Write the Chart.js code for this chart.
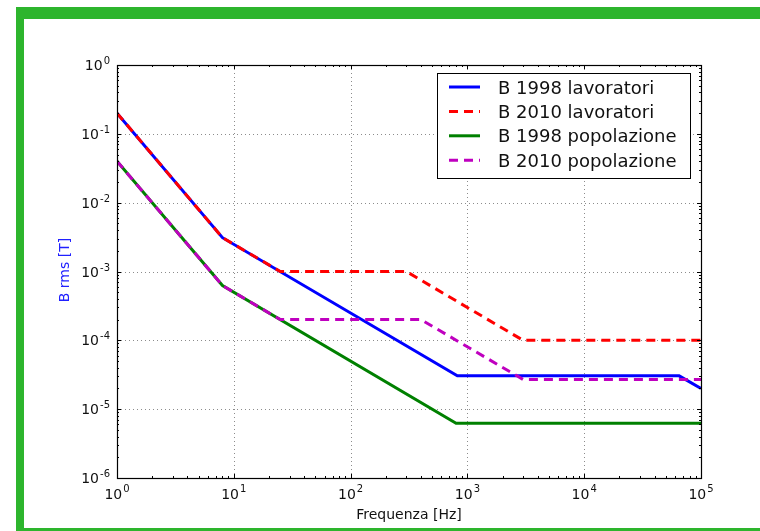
<!DOCTYPE html>
<html>
<head>
<meta charset="utf-8">
<script src="https://cdn.jsdelivr.net/npm/chart.js@4/dist/chart.umd.min.js"></script>
<style>
  html, body { margin: 0; padding: 0; background: #fff; }
  #wrap { width: 760px; height: 531px; position: relative; }
</style>
</head>
<body>
<div id="wrap"><canvas id="myChart" width="760" height="531"></canvas></div>
<script>
// dati (punti di rottura delle curve)
const freq1998lav = [1, 8, 820, 65000, 100000];
const b1998lav    = [0.2, 3.1e-3, 3.05e-5, 3.05e-5, 2.0e-5];
const freq2010lav = [1, 8, 25, 300, 3000, 100000];
const b2010lav    = [0.2, 3.1e-3, 1e-3, 1e-3, 1e-4, 1e-4];
const freq1998pop = [1, 8, 800, 100000];
const b1998pop    = [0.04, 6.25e-4, 6.25e-6, 6.25e-6];
const freq2010pop = [1, 8, 25, 400, 3000, 100000];
const b2010pop    = [0.04, 6.25e-4, 2e-4, 2e-4, 2.7e-5, 2.7e-5];

const seriesNames = ['B 1998 lavoratori', 'B 2010 lavoratori', 'B 1998 popolazione', 'B 2010 popolazione'];
const xTicks = [1, 10, 100, 1000, 10000, 100000];
const yTicks = [1e-6, 1e-5, 1e-4, 1e-3, 1e-2, 1e-1, 1];

function zip(xs, ys) {
  return xs.map((x, i) => ({ x: x, y: ys[i] }));
}

const FONT = '"DejaVu Sans", sans-serif';

// disegna assi, griglia, etichette e legenda in stile matplotlib
const decorPlugin = {
  id: 'decor',
  beforeDraw(chart) {
    const ctx = chart.ctx;
    ctx.save();
    ctx.fillStyle = '#ffffff';
    ctx.fillRect(0, 0, chart.width, chart.height);
    // cornice verde
    ctx.fillStyle = '#2db52d';
    ctx.fillRect(16, 7, 744, 12);
    ctx.fillRect(16, 7, 8, 524);
    ctx.fillRect(16, 528, 744, 3);
    // griglia punteggiata
    const a = chart.chartArea;
    const xs = chart.scales.x, ys = chart.scales.y;
    ctx.strokeStyle = 'rgba(0,0,0,0.45)';
    ctx.lineWidth = 1;
    ctx.setLineDash([1, 3]);
    xTicks.forEach(t => {
      const px = Math.round(xs.getPixelForValue(t)) + 0.5;
      ctx.beginPath(); ctx.moveTo(px, a.top); ctx.lineTo(px, a.bottom); ctx.stroke();
    });
    yTicks.forEach(t => {
      const py = Math.round(ys.getPixelForValue(t)) + 0.5;
      ctx.beginPath(); ctx.moveTo(a.left, py); ctx.lineTo(a.right, py); ctx.stroke();
    });
    ctx.restore();
  },
  afterDraw(chart) {
    const ctx = chart.ctx;
    const a = chart.chartArea;
    const xs = chart.scales.x, ys = chart.scales.y;
    ctx.save();
    ctx.setLineDash([]);
    ctx.strokeStyle = '#000';
    ctx.lineWidth = 1;
    // tacche maggiori e minori
    for (let d = 0; d < 5; d++) {
      for (let m = 1; m < 10; m++) {
        const v = Math.pow(10, d) * m;
        const px = Math.round(xs.getPixelForValue(v)) + 0.5;
        const len = m === 1 ? 4 : 2;
        ctx.beginPath();
        ctx.moveTo(px, a.bottom); ctx.lineTo(px, a.bottom - len);
        ctx.moveTo(px, a.top); ctx.lineTo(px, a.top + len);
        ctx.stroke();
      }
    }
    for (let d = -6; d < 0; d++) {
      for (let m = 1; m < 10; m++) {
        const v = Math.pow(10, d) * m;
        const py = Math.round(ys.getPixelForValue(v)) + 0.5;
        const len = m === 1 ? 4 : 2;
        ctx.beginPath();
        ctx.moveTo(a.left, py); ctx.lineTo(a.left + len, py);
        ctx.moveTo(a.right, py); ctx.lineTo(a.right - len, py);
        ctx.stroke();
      }
    }
    // riquadro
    ctx.lineWidth = 1.2;
    ctx.strokeRect(Math.round(a.left) + 0.5, Math.round(a.top) + 0.5,
      Math.round(a.right - a.left), Math.round(a.bottom - a.top));

    // etichette con esponente
    ctx.fillStyle = '#111';
    ctx.textBaseline = 'alphabetic';
    xTicks.forEach(t => {
      const px = xs.getPixelForValue(t);
      const e = String(Math.round(Math.log10(t)));
      ctx.font = '14px ' + FONT;
      const w1 = ctx.measureText('10').width;
      ctx.font = '10px ' + FONT;
      const w2 = ctx.measureText(e).width;
      const x0 = px - (w1 + w2 + 1) / 2;
      ctx.font = '14px ' + FONT;
      ctx.textAlign = 'left';
      ctx.fillText('10', x0, 499);
      ctx.font = '10px ' + FONT;
      ctx.fillText(e, x0 + w1 + 1, 492);
    });
    yTicks.forEach(t => {
      const py = ys.getPixelForValue(t);
      const e = String(Math.round(Math.log10(t)));
      ctx.font = '10px ' + FONT;
      const w2 = ctx.measureText(e).width;
      ctx.textAlign = 'left';
      ctx.fillText(e, 110 - w2, py - 1);
      ctx.font = '14px ' + FONT;
      const w1 = ctx.measureText('10').width;
      ctx.fillText('10', 110 - w2 - w1 - 1, py + 5);
    });

    // titoli degli assi
    ctx.font = '14px ' + FONT;
    ctx.textAlign = 'center';
    ctx.fillStyle = '#111';
    ctx.fillText('Frequenza [Hz]', (a.left + a.right) / 2, 519);
    ctx.save();
    ctx.translate(69, 270);
    ctx.rotate(-Math.PI / 2);
    ctx.fillStyle = '#2020ff';
    ctx.font = '14px ' + FONT;
    ctx.fillText('B rms [T]', 0, 0);
    ctx.restore();

    // legenda
    const lx = 437, ly = 73, lw = 253, lh = 105;
    ctx.fillStyle = '#fff';
    ctx.fillRect(lx, ly, lw, lh);
    ctx.strokeStyle = '#000';
    ctx.lineWidth = 1;
    ctx.strokeRect(lx + 0.5, ly + 0.5, lw, lh);
    chart.data.datasets.forEach((ds, i) => {
      const yy = 87 + i * 24.4;
      ctx.strokeStyle = ds.borderColor;
      ctx.lineWidth = 3;
      ctx.setLineDash(ds.borderDash || []);
      ctx.beginPath(); ctx.moveTo(449, yy); ctx.lineTo(480, yy); ctx.stroke();
      ctx.setLineDash([]);
      ctx.fillStyle = '#111';
      ctx.font = '18px ' + FONT;
      ctx.textAlign = 'left';
      ctx.fillText(ds.label, 498, yy + 6.5);
    });
    ctx.restore();
  }
};

const colors = ['#0000ff', '#ff0000', '#008000', '#bf00bf'];
const dashes = [[], [9, 6], [], [9, 6]];
const series = [zip(freq1998lav, b1998lav), zip(freq2010lav, b2010lav),
                zip(freq1998pop, b1998pop), zip(freq2010pop, b2010pop)];

const datasets = series.map((d, i) => ({
  label: seriesNames[i],
  data: d,
  borderColor: colors[i],
  borderDash: dashes[i],
  borderWidth: 3,
  pointRadius: 0,
  fill: false,
  tension: 0,
  order: 4 - i // le ultime serie sopra, come in matplotlib
}));

const ctx = document.getElementById('myChart').getContext('2d');
const myChart = new Chart(ctx, {
  type: 'line',
  data: { datasets: datasets },
  options: {
    responsive: false,
    animation: false,
    layout: { padding: { left: 117, top: 65, right: 59, bottom: 53 } },
    plugins: { legend: { display: false }, tooltip: { enabled: false } },
    scales: {
      x: { type: 'logarithmic', min: 1, max: 100000, display: false },
      y: { type: 'logarithmic', min: 1e-6, max: 1, display: false }
    }
  },
  plugins: [decorPlugin]
});
</script>
</body>
</html>
